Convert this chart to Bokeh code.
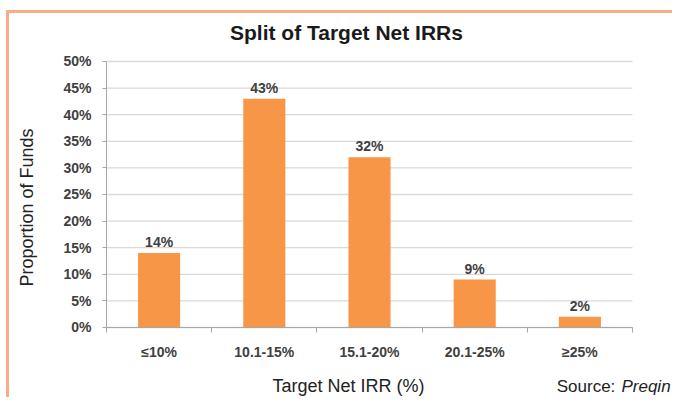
import math
from bokeh.plotting import figure
from bokeh.models import Range1d, FixedTicker, Label, PrintfTickFormatter, BoxAnnotation
from bokeh.embed import file_html
from bokeh.resources import INLINE

# ---- data ----
categories = ["≤10%", "10.1-15%", "15.1-20%", "20.1-25%", "≥25%"]
proportions = [14, 43, 32, 9, 2]          # % of funds
y_ticks = [0, 5, 10, 15, 20, 25, 30, 35, 40, 45, 50]
y_max = 50

FONT = "Liberation Sans"
BAR = "#F79646"
BORDER = "#F9AC85"
GRID = "#D9D9D9"

n = len(categories)
xs = [i + 0.5 for i in range(n)]

# The frame fills the canvas; the axes sit at the data origin so that texts
# around the chart live inside the frame.
p = figure(
    width=672, height=397,
    x_range=Range1d(-1.0076, 5.3802), y_range=Range1d(-13.158, 61.466),
    output_backend="svg", toolbar_location=None,
    min_border=0,
)
p.outline_line_color = None
p.background_fill_color = "white"
p.border_fill_color = "white"

# orange frame around the chart (top and left edges)
p.add_layout(BoxAnnotation(left=-0.9553, right=-0.9268, top=59.68,
                           fill_color=BORDER, fill_alpha=1, line_color=None))
p.add_layout(BoxAnnotation(left=-0.9553, bottom=59.12, top=59.68,
                           fill_color=BORDER, fill_alpha=1, line_color=None))

# horizontal gridlines, only across the category span
p.xgrid.grid_line_color = None
p.ygrid.grid_line_color = None
p.segment(x0=[0] * len(y_ticks), x1=[n] * len(y_ticks), y0=y_ticks, y1=y_ticks,
          line_color=GRID, line_width=1.3)

# bars
p.vbar(x=xs, top=proportions, width=0.4, fill_color=BAR, line_color=None)

# data labels
p.text(x=xs, y=proportions, text=[f"{v}%" for v in proportions],
       text_align="center", text_baseline="bottom", y_offset=-3,
       text_font_size="14px", text_font_style="bold", text_color="#404040",
       text_font={"value": FONT})

# x axis
xa = p.xaxis[0]
xa.fixed_location = 0
xa.bounds = (0, n)
xa.ticker = FixedTicker(ticks=xs, minor_ticks=list(range(n + 1)))
xa.major_label_overrides = {x: c for x, c in zip(xs, categories)}
xa.major_tick_out = 0
xa.major_tick_in = 0
xa.minor_tick_out = 5
xa.minor_tick_in = 0
xa.minor_tick_line_color = "#A6A6A6"
xa.axis_line_color = "#A6A6A6"
xa.major_label_text_font = FONT
xa.major_label_text_font_size = "14px"
xa.major_label_text_font_style = "bold"
xa.major_label_text_color = "#404040"
xa.major_label_standoff = 12

# y axis
ya = p.yaxis[0]
ya.fixed_location = 0
ya.bounds = (0, y_max)
ya.ticker = FixedTicker(ticks=y_ticks)
ya.formatter = PrintfTickFormatter(format="%d%%")
ya.major_tick_out = 4
ya.major_tick_in = 0
ya.minor_tick_line_color = None
ya.major_tick_line_color = "#A6A6A6"
ya.axis_line_color = "#A6A6A6"
ya.major_label_text_font = FONT
ya.major_label_text_font_size = "14px"
ya.major_label_text_font_style = "bold"
ya.major_label_text_color = "#404040"
ya.major_label_standoff = 11

# title, axis titles and source
p.add_layout(Label(x=2.281, y=55.45, text="Split of Target Net IRRs", text_align="center",
                   text_baseline="middle", text_font=FONT, text_font_size="21px",
                   text_font_style="bold", text_color="#1a1a1a"))
p.add_layout(Label(x=2.30, y=-11.09, text="Target Net IRR (%)", text_align="center",
                   text_baseline="middle", text_font=FONT, text_font_size="18px",
                   text_color="#222222"))
p.add_layout(Label(x=-0.751, y=22.56, text="Proportion of Funds", angle=math.pi / 2,
                   text_align="center", text_baseline="middle", text_font=FONT,
                   text_font_size="18px", text_color="#222222"))
p.add_layout(Label(x=4.28, y=-11.09, text="Source:", text_align="left",
                   text_baseline="middle", text_font=FONT, text_font_size="17px",
                   text_color="#222222"))
p.add_layout(Label(x=4.895, y=-11.09, text="Preqin", text_align="left",
                   text_baseline="middle", text_font=FONT, text_font_size="17px",
                   text_font_style="italic", text_color="#222222"))

open("out.html", "w").write(file_html(p, INLINE))
